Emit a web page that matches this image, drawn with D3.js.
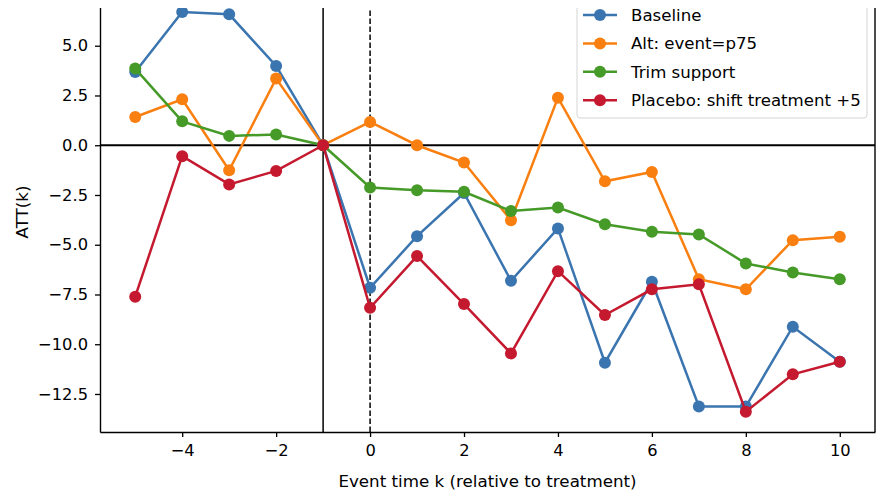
<!DOCTYPE html>
<html>
<head>
<meta charset="utf-8">
<script src="https://cdn.jsdelivr.net/npm/d3@7"></script>
<style>
  body { margin: 0; background: #fff; }
  svg { display: block; font-family: "DejaVu Sans", sans-serif; }
</style>
</head>
<body>
<div id="chart"></div>
<script>
// event time k
var eventTimes = [-5, -4, -3, -2, -1, 0, 1, 2, 3, 4, 5, 6, 7, 8, 9, 10];

var baseline = [3.68, 6.69, 6.58, 3.98, 0, -7.16, -4.57, -2.4, -6.81, -4.18, -10.93, -6.86, -13.13, -13.13, -9.12, -10.88];
var altP75   = [1.42, 2.31, -1.26, 3.35, 0, 1.17, 0.0, -0.87, -3.77, 2.39, -1.81, -1.34, -6.73, -7.24, -4.77, -4.6];
var trim     = [3.85, 1.2, 0.47, 0.54, 0, -2.12, -2.26, -2.34, -3.31, -3.13, -3.97, -4.35, -4.48, -5.94, -6.39, -6.73];
var placebo  = [-7.61, -0.55, -1.97, -1.29, 0, -8.17, -5.57, -7.98, -10.46, -6.33, -8.53, -7.24, -6.99, -13.39, -11.51, -10.88];

var seriesNames  = ["Baseline", "Alt: event=p75", "Trim support", "Placebo: shift treatment +5"];
var seriesColors = ["#3b75b0", "#f97f10", "#459a28", "#c4192f"];
var seriesValues = [baseline, altP75, trim, placebo];

var xTicks = [-4, -2, 0, 2, 4, 6, 8, 10];
var yTicks = [-12.5, -10.0, -7.5, -5.0, -2.5, 0.0, 2.5, 5.0];

var W = 878, H = 493;
var margin = {left: 100, right: 3, top: -8, bottom: 61};

var svg = d3.select("#chart").append("svg")
    .attr("width", W).attr("height", H);

var x = d3.scaleLinear().domain([-5.75, 10.75]).range([margin.left, W - margin.right]);
var y = d3.scaleLinear().domain([-14.41, 7.7]).range([H - margin.bottom, margin.top]);

var minus = function(s) { return s.replace("-", "\u2212"); };

// reference lines
svg.append("line")
    .attr("x1", x.range()[0]).attr("x2", x.range()[1])
    .attr("y1", y(0)).attr("y2", y(0))
    .attr("stroke", "#000").attr("stroke-width", 1.9);
svg.append("line")
    .attr("x1", x(-1)).attr("x2", x(-1))
    .attr("y1", y.range()[0]).attr("y2", y.range()[1])
    .attr("stroke", "#000").attr("stroke-width", 1.5);
svg.append("line")
    .attr("x1", x(0)).attr("x2", x(0))
    .attr("y1", y.range()[0]).attr("y2", y.range()[1])
    .attr("stroke", "#000").attr("stroke-width", 1.5)
    .attr("stroke-dasharray", "5.5,2.5");

var line = d3.line()
    .x(function(d, i) { return x(eventTimes[i]); })
    .y(function(d) { return y(d); });

seriesValues.forEach(function(vals, s) {
    var g = svg.append("g");
    g.append("path")
        .attr("d", line(vals))
        .attr("fill", "none")
        .attr("stroke", seriesColors[s])
        .attr("stroke-width", 2.5);
    g.selectAll("circle").data(vals).enter().append("circle")
        .attr("cx", function(d, i) { return x(eventTimes[i]); })
        .attr("cy", function(d) { return y(d); })
        .attr("r", 6)
        .attr("fill", seriesColors[s]);
});

// axes
var xAxis = svg.append("g")
    .attr("transform", "translate(0," + (H - margin.bottom) + ")")
    .call(d3.axisBottom(x).tickValues(xTicks).tickSize(5).tickSizeOuter(0).tickPadding(7)
        .tickFormat(function(d) { return minus(String(d)); }));
var yAxis = svg.append("g")
    .attr("transform", "translate(" + margin.left + ",0)")
    .call(d3.axisLeft(y).tickValues(yTicks).tickSize(5).tickSizeOuter(0).tickPadding(7)
        .tickFormat(function(d) { return minus(d.toFixed(1)); }));

[xAxis, yAxis].forEach(function(a) {
    a.select(".domain").attr("stroke", "#000").attr("stroke-width", 1.4);
    a.selectAll(".tick line").attr("stroke", "#000").attr("stroke-width", 1.3);
    a.selectAll(".tick text").attr("fill", "#000").style("font-size", "16.3px")
        .style("font-family", "DejaVu Sans, sans-serif");
});

// right spine
svg.append("line")
    .attr("x1", x.range()[1]).attr("x2", x.range()[1])
    .attr("y1", y.range()[0]).attr("y2", y.range()[1])
    .attr("stroke", "#000").attr("stroke-width", 1.4);

svg.append("text")
    .attr("x", (x.range()[0] + x.range()[1]) / 2).attr("y", 487)
    .attr("text-anchor", "middle").style("font-size", "16.7px")
    .text("Event time k (relative to treatment)");
svg.append("text")
    .attr("transform", "translate(28," + ((y.range()[0] + y.range()[1]) / 2) + ") rotate(-90)")
    .attr("text-anchor", "middle").style("font-size", "16.7px")
    .text("ATT(k)");

// legend
var lg = svg.append("g");
lg.append("rect")
    .attr("x", 577).attr("y", -4).attr("width", 290).attr("height", 122).attr("rx", 3)
    .attr("fill", "#fff").attr("fill-opacity", 0.85)
    .attr("stroke", "#d5d5d5").attr("stroke-width", 1);
seriesNames.forEach(function(name, i) {
    var ly = 15 + i * 28.4;
    lg.append("line").attr("x1", 583).attr("x2", 617).attr("y1", ly).attr("y2", ly)
        .attr("stroke", seriesColors[i]).attr("stroke-width", 2.5);
    lg.append("circle").attr("cx", 600).attr("cy", ly).attr("r", 6).attr("fill", seriesColors[i]);
    lg.append("text").attr("x", 631).attr("y", ly + 6).style("font-size", "16.6px").text(name);
});

// top of the picture is cut off in the reference
svg.append("rect").attr("x", 0).attr("y", 0).attr("width", W).attr("height", 8).attr("fill", "#fff");
</script>
</body>
</html>
